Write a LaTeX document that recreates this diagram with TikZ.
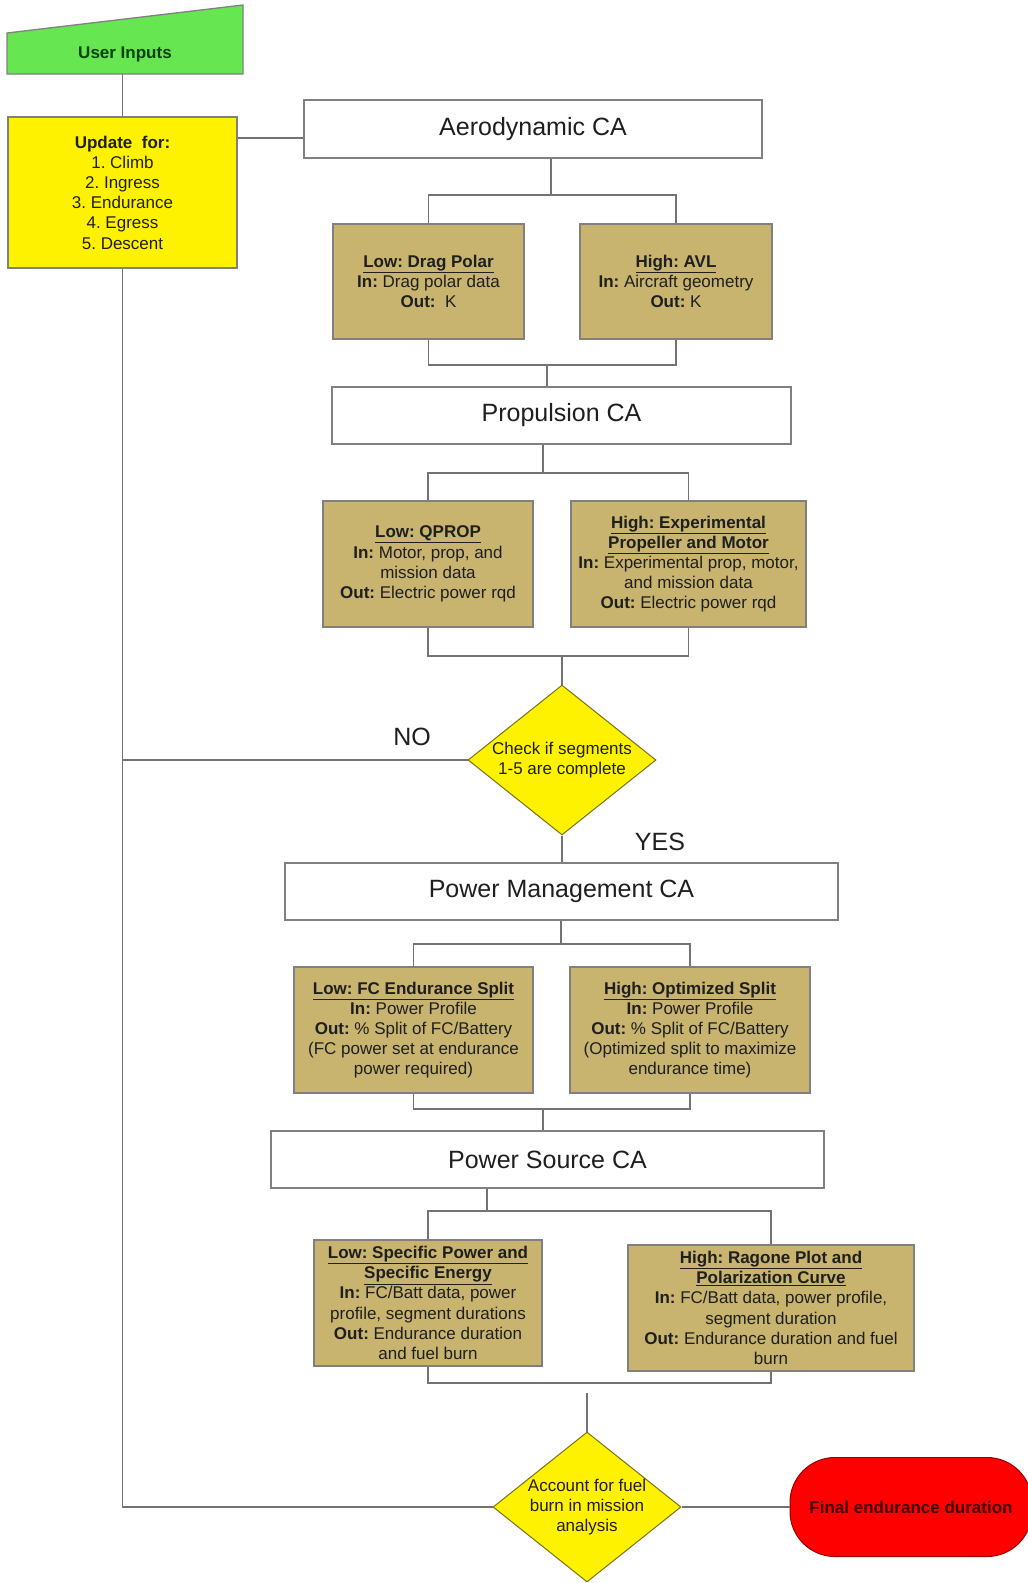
\documentclass[tikz,border=0pt]{standalone}
\usepackage{fontspec}
\setmainfont{Liberation Sans}
\usetikzlibrary{shapes.geometric, calc, positioning}
\definecolor{line-gray}{gray}{0.45}
\definecolor{box-gray}{gray}{0.5}
\definecolor{fid-tan}{RGB}{200,180,110}
\definecolor{input-green}{RGB}{102,230,80}
\definecolor{dark-text}{gray}{0.12}
\frenchspacing

\begin{document}
\begin{tikzpicture}[x=1pt, y=-1pt]
  \tikzstyle{cabox} = [draw=box-gray, line width=1.3pt, fill=white, inner sep=0pt, font=\fontsize{25}{30}\selectfont, text=dark-text]
  \tikzstyle{fidelity} = [draw=box-gray, line width=1.6pt, fill=fid-tan, inner sep=0pt, align=center, font=\fontsize{17}{20.2}\selectfont, text=dark-text]
  \tikzstyle{decision} = [diamond, draw=olive!80!black, line width=1pt, fill=yellow, inner sep=0pt]
  \tikzstyle{decisiontext} = [align=center, font=\fontsize{17}{20.2}\selectfont, text=dark-text]
  \tikzstyle{link} = [draw=line-gray, line width=1.3pt]
  \tikzstyle{answer} = [font=\fontsize{25}{30}\selectfont, text=dark-text]
  \def\ttl#1{\underline{\textbf{#1}}}
% Page frame
  \clip (0,0) rectangle (1028,1583);
  \fill[white] (0,0) rectangle (1028,1583);
% User inputs and segment update
  \filldraw[fill=input-green, draw=box-gray, line width=1.3pt] (7,33) -- (243,5) -- (243,74) -- (7,74) -- cycle;
  \node[minimum width=236pt, minimum height=40pt, inner sep=0pt, font=\bfseries\fontsize{17}{20}\selectfont, text=green!25!black] (userin) at (125,54) {User Inputs};
  \node[draw=box-gray, line width=1.3pt, fill=yellow, minimum width=229pt, minimum height=151pt, inner sep=0pt, align=center, font=\fontsize{17}{20.2}\selectfont, text=dark-text] (update) at (122.5,192.5) {\textbf{Update\ \ for:}\\1. Climb\\2. Ingress\\3. Endurance\\4. Egress\\5. Descent};
% Aerodynamic CA
  \node[cabox, minimum width=458pt, minimum height=58pt] (aero) at (533,129) {Aerodynamic CA};
  \node[fidelity, minimum width=191pt, minimum height=115pt] (drag) at (428.5,281.5) {\ttl{Low: Drag Polar}\\\textbf{In:} Drag polar data\\\textbf{Out:}\ \ K};
  \node[fidelity, minimum width=192pt, minimum height=115pt] (avl) at (676,281.5) {\ttl{High: AVL}\\\textbf{In:} Aircraft geometry\\\textbf{Out:} K};
% Propulsion CA
  \node[cabox, minimum width=459pt, minimum height=57pt] (prop) at (561.5,415.5) {Propulsion CA};
  \node[fidelity, minimum width=210pt, minimum height=126pt] (qprop) at (428,564) {\ttl{Low: QPROP}\\\textbf{In:} Motor, prop, and\\mission data\\\textbf{Out:} Electric power rqd};
  \node[fidelity, minimum width=235pt, minimum height=126pt] (expt) at (688.5,564) {\ttl{High: Experimental}\\\ttl{Propeller and Motor}\\\textbf{In:} Experimental prop, motor,\\and mission data\\\textbf{Out:} Electric power rqd};
% Segment check
  \node[decision, minimum width=188pt, minimum height=150pt, label={[decisiontext]center:Check if segments\\1-5 are complete}] (check) at (562,760) {};
  \node[answer] (no) at (412,737) {NO};
  \node[answer] (yes) at (660,842) {YES};
% Power Management CA
  \node[cabox, minimum width=553pt, minimum height=57pt] (pm) at (561.5,891.5) {Power Management CA};
  \node[fidelity, minimum width=239pt, minimum height=126pt] (fcsplit) at (413.5,1030) {\ttl{Low: FC Endurance Split}\\\textbf{In:} Power Profile\\\textbf{Out:} \% Split of FC/Battery\\(FC power set at endurance\\power required)};
  \node[fidelity, minimum width=240pt, minimum height=126pt] (optsplit) at (690,1030) {\ttl{High: Optimized Split}\\\textbf{In:} Power Profile\\\textbf{Out:} \% Split of FC/Battery\\(Optimized split to maximize\\endurance time)};
% Power Source CA
  \node[cabox, minimum width=553pt, minimum height=57pt] (ps) at (547.5,1159.5) {Power Source CA};
  \node[fidelity, minimum width=228pt, minimum height=126pt] (specpow) at (428,1303) {\ttl{Low: Specific Power and}\\\ttl{Specific Energy}\\\textbf{In:} FC/Batt data, power\\profile, segment durations\\\textbf{Out:} Endurance duration\\and fuel burn};
  \node[fidelity, minimum width=286pt, minimum height=126pt] (ragone) at (771,1308) {\ttl{High: Ragone Plot and}\\\ttl{Polarization Curve}\\\textbf{In:} FC/Batt data, power profile,\\segment duration\\\textbf{Out:} Endurance duration and fuel\\burn};
% Mission analysis and result
  \node[decision, minimum width=188pt, minimum height=150pt, label={[decisiontext]center:Account for fuel\\burn in mission\\analysis}] (fuel) at (587,1507) {};
  \node[draw=red!60!black, line width=1pt, fill=red, rounded corners=45pt, minimum width=242pt, minimum height=99pt, font=\bfseries\fontsize{17}{20}\selectfont, text=red!25!black] (final) at (911,1507) {Final endurance duration};
% Split and join points
  \coordinate (aerosplit) at (551,195);
  \coordinate (aerojoin) at (547,365);
  \coordinate (propsplit) at (543,473);
  \coordinate (propjoin) at (562,656);
  \coordinate (pmsplit) at (561,944);
  \coordinate (pmjoin) at (543,1109);
  \coordinate (pssplit) at (487,1211);
  \coordinate (psjoin) at (587,1383);
% Connectors
  \draw[link] (update.north) -- (update.north |- userin.south);
  \draw[link] (aero.west) ++(0,9) coordinate (aein) -- (aein -| update.east);
  \draw[link] (aero.south -| aerosplit) -- (aerosplit);
  \draw[link] (drag.north) |- (aerosplit) -| (avl.north);
  \draw[link] (drag.south) |- (aerojoin) -| (avl.south);
  \draw[link] (aerojoin) -- (aerojoin |- prop.north);
  \draw[link] (prop.south -| propsplit) -- (propsplit);
  \draw[link] (qprop.north) |- (propsplit) -| (expt.north);
  \draw[link] (qprop.south) |- (propjoin) -| (expt.south);
  \draw[link] (propjoin) -- (check.north);
  \draw[link] (check.west) -| (update.south);
  \draw[link] (check.south) -- (check.south |- pm.north);
  \draw[link] (pm.south -| pmsplit) -- (pmsplit);
  \draw[link] (fcsplit.north) |- (pmsplit) -| (optsplit.north);
  \draw[link] (fcsplit.south) |- (pmjoin) -| (optsplit.south);
  \draw[link] (pmjoin) -- (pmjoin |- ps.north);
  \draw[link] (ps.south -| pssplit) -- (pssplit);
  \draw[link] (specpow.north) |- (pssplit) -| (ragone.north);
  \draw[link] (specpow.south) |- (psjoin) -| (ragone.south);
  \draw[link] (fuel.north) -- ($(psjoin)+(0,10)$);
  \draw[link] (fuel.west) -| (update.south);
  \draw[link] (fuel.east) -- (final.west);
\end{tikzpicture}
\end{document}
